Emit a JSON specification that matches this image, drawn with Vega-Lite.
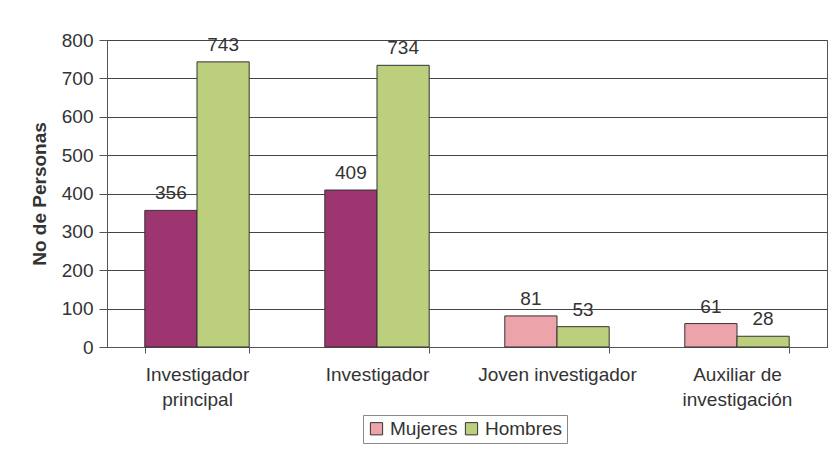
{
  "$schema": "https://vega.github.io/schema/vega-lite/v6.json",
  "autosize": "none",
  "width": 720,
  "height": 307,
  "padding": {"left": 107, "top": 40, "right": 2, "bottom": 108},
  "background": "white",
  "config": {
    "font": "Liberation Sans",
    "view": {"stroke": "#555", "strokeWidth": 1}
  },
  "data": {
    "values": [
      {"categoria": "Investigador principal", "serie": "Mujeres", "valor": 356},
      {"categoria": "Investigador principal", "serie": "Hombres", "valor": 743},
      {"categoria": "Investigador", "serie": "Mujeres", "valor": 409},
      {"categoria": "Investigador", "serie": "Hombres", "valor": 734},
      {"categoria": "Joven investigador", "serie": "Mujeres", "valor": 81},
      {"categoria": "Joven investigador", "serie": "Hombres", "valor": 53},
      {"categoria": "Auxiliar de investigación", "serie": "Mujeres", "valor": 61},
      {"categoria": "Auxiliar de investigación", "serie": "Hombres", "valor": 28}
    ]
  },
  "encoding": {
    "x": {
      "field": "categoria",
      "type": "nominal",
      "sort": null,
      "scale": {"paddingInner": 0.42, "paddingOuter": 0.21},
      "axis": {
        "title": null,
        "labelAngle": 0,
        "labelFontSize": 19,
        "labelColor": "#333",
        "labelPadding": 12,
        "labelLineHeight": 25,
        "labelExpr": "datum.value == 'Investigador principal' ? ['Investigador', 'principal'] : datum.value == 'Auxiliar de investigación' ? ['Auxiliar de', 'investigación'] : datum.value",
        "tickBand": "extent",
        "tickSize": 6,
        "tickColor": "#555",
        "domainColor": "#555"
      }
    },
    "xOffset": {"field": "serie", "type": "nominal", "sort": ["Mujeres", "Hombres"]}
  },
  "layer": [
    {
      "mark": {"type": "bar", "stroke": "#333", "strokeWidth": 1},
      "encoding": {
        "y": {
          "field": "valor",
          "type": "quantitative",
          "scale": {"domain": [0, 800]},
          "axis": {
            "title": "No de Personas",
            "titleFontSize": 19,
            "titleFontWeight": "bold",
            "titleColor": "#333",
            "titlePadding": 12,
            "labelFontSize": 19,
            "labelColor": "#333",
            "tickCount": 8,
            "gridColor": "#444",
            "gridWidth": 1,
            "tickColor": "#555",
            "tickSize": 8,
            "domainColor": "#555",
            "labelPadding": 6
          }
        },
        "color": {
          "condition": {
            "test": "datum.serie == 'Mujeres' && (datum.categoria == 'Investigador principal' || datum.categoria == 'Investigador')",
            "value": "#9c3570"
          },
          "field": "serie",
          "type": "nominal",
          "scale": {"domain": ["Mujeres", "Hombres"], "range": ["#eda3aa", "#bccf7c"]},
          "legend": {
            "title": null,
            "orient": "none",
            "legendX": 256,
            "legendY": 375,
            "direction": "horizontal",
            "symbolType": "square",
            "symbolSize": 150,
            "symbolStrokeColor": "#333",
            "symbolStrokeWidth": 1,
            "labelFontSize": 19,
            "labelColor": "#333",
            "columnPadding": 4,
            "symbolOffset": 0,
            "strokeColor": "#888",
            "padding": 4
          }
        }
      }
    },
    {
      "mark": {"type": "text", "dy": -17, "fontSize": 19, "color": "#333"},
      "encoding": {
        "y": {"field": "valor", "type": "quantitative"},
        "text": {"field": "valor", "type": "quantitative"}
      }
    }
  ]
}
